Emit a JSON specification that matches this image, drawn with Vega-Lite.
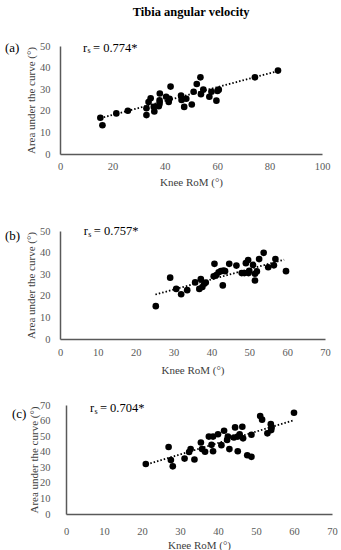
{
  "$schema": "https://vega.github.io/schema/vega-lite/v6.json",
  "padding": {"left": 5, "top": 5, "right": 0, "bottom": 0},
  "title": {"text": "Tibia angular velocity", "anchor": "middle", "fontSize": 12.5, "fontWeight": "bold", "font": "Liberation Serif", "color": "black", "offset": 23, "dx": 20},
  "datasets": {
    "pts_a": [
      {"rom": 15.4, "auc": 16.8}, {"rom": 16.2, "auc": 13.3}, {"rom": 21.5, "auc": 18.8}, {"rom": 25.9, "auc": 20},
      {"rom": 33, "auc": 21.2}, {"rom": 33, "auc": 18}, {"rom": 33.8, "auc": 24.1}, {"rom": 34.6, "auc": 25.8},
      {"rom": 35.8, "auc": 21.8}, {"rom": 36, "auc": 19.7}, {"rom": 37.7, "auc": 22.1}, {"rom": 38, "auc": 24.8},
      {"rom": 38, "auc": 23.3}, {"rom": 38.1, "auc": 28}, {"rom": 40.5, "auc": 26.5}, {"rom": 41.5, "auc": 24.1},
      {"rom": 41.8, "auc": 25.6}, {"rom": 42.2, "auc": 31.2}, {"rom": 46.2, "auc": 27.1}, {"rom": 46.4, "auc": 25},
      {"rom": 47.4, "auc": 21.8}, {"rom": 48.2, "auc": 25.6}, {"rom": 50.3, "auc": 22.9}, {"rom": 51, "auc": 28.8},
      {"rom": 52.2, "auc": 32.4}, {"rom": 53.6, "auc": 35.5}, {"rom": 53.8, "auc": 27.7}, {"rom": 54.7, "auc": 29.8},
      {"rom": 57, "auc": 26.5}, {"rom": 57.8, "auc": 28.8}, {"rom": 59.7, "auc": 24.7}, {"rom": 60.1, "auc": 29.2},
      {"rom": 60.6, "auc": 29.8}, {"rom": 74.4, "auc": 35.5}, {"rom": 83.2, "auc": 38.6}
    ],
    "trend_a": [{"rom": 15.4, "auc": 16.6}, {"rom": 83.2, "auc": 38.4}],
    "ann_a": [{"x": 8.8, "y": 49.3, "r": "r", "s": "s", "v": "= 0.774*"}],
    "pts_b": [
      {"rom": 25.3, "auc": 15.2}, {"rom": 29.1, "auc": 28.4}, {"rom": 30.7, "auc": 23.2}, {"rom": 32, "auc": 20.7},
      {"rom": 33.6, "auc": 22.6}, {"rom": 35.7, "auc": 26.2}, {"rom": 36.8, "auc": 23.2}, {"rom": 37.2, "auc": 27.7},
      {"rom": 37.6, "auc": 24.1}, {"rom": 38.1, "auc": 25.6}, {"rom": 38.5, "auc": 26.1}, {"rom": 40.6, "auc": 29},
      {"rom": 40.8, "auc": 34.8}, {"rom": 41.3, "auc": 29.6}, {"rom": 41.9, "auc": 30.9}, {"rom": 42.5, "auc": 31.4},
      {"rom": 43.2, "auc": 31.7}, {"rom": 43, "auc": 24.8}, {"rom": 43.6, "auc": 31.4}, {"rom": 44.7, "auc": 34.8},
      {"rom": 46.6, "auc": 34}, {"rom": 48, "auc": 30.5}, {"rom": 48.7, "auc": 30.5}, {"rom": 49.1, "auc": 35.1},
      {"rom": 49.7, "auc": 36.6}, {"rom": 49.8, "auc": 30.5}, {"rom": 50, "auc": 31.6}, {"rom": 51, "auc": 34.3},
      {"rom": 51.5, "auc": 30.2}, {"rom": 51.5, "auc": 27.1}, {"rom": 52, "auc": 31.3}, {"rom": 52.6, "auc": 37},
      {"rom": 53.8, "auc": 39.9}, {"rom": 55, "auc": 33.2}, {"rom": 56.5, "auc": 34.1}, {"rom": 56.9, "auc": 37},
      {"rom": 59.7, "auc": 31.4}
    ],
    "trend_b": [{"rom": 25.2, "auc": 20.6}, {"rom": 59.2, "auc": 36.7}],
    "ann_b": [{"x": 6.3, "y": 50, "r": "r", "s": "s", "v": "= 0.757*"}],
    "pts_c": [
      {"rom": 21, "auc": 32.1}, {"rom": 27, "auc": 43}, {"rom": 27.6, "auc": 34.6}, {"rom": 28.1, "auc": 30.6},
      {"rom": 31.2, "auc": 35.6}, {"rom": 32.4, "auc": 39.8}, {"rom": 32.8, "auc": 41.7}, {"rom": 33.8, "auc": 35},
      {"rom": 35.5, "auc": 45.9}, {"rom": 35.8, "auc": 41.7}, {"rom": 36.6, "auc": 40}, {"rom": 37.6, "auc": 49.7},
      {"rom": 38.3, "auc": 44.4}, {"rom": 38.7, "auc": 40.3}, {"rom": 38.7, "auc": 49.7}, {"rom": 40, "auc": 51.2},
      {"rom": 40.9, "auc": 44.2}, {"rom": 41.6, "auc": 53.5}, {"rom": 42.4, "auc": 47.6}, {"rom": 42.6, "auc": 49.7},
      {"rom": 43, "auc": 41.7}, {"rom": 44.2, "auc": 49.1}, {"rom": 44.5, "auc": 55.6}, {"rom": 45.2, "auc": 40.3},
      {"rom": 45.2, "auc": 49.7}, {"rom": 45.7, "auc": 51.2}, {"rom": 46.4, "auc": 56}, {"rom": 46.6, "auc": 48.6},
      {"rom": 47.7, "auc": 37.7}, {"rom": 48.8, "auc": 36.7}, {"rom": 48.8, "auc": 50.9}, {"rom": 51.1, "auc": 62.9},
      {"rom": 51.6, "auc": 60.6}, {"rom": 53, "auc": 51.8}, {"rom": 53.9, "auc": 57.7}, {"rom": 54, "auc": 53.9},
      {"rom": 54.1, "auc": 55.5}, {"rom": 60, "auc": 65}
    ],
    "trend_c": [{"rom": 21.3, "auc": 31.9}, {"rom": 60, "auc": 60.2}],
    "ann_c": [{"x": 6.3, "y": 68, "r": "r", "s": "s", "v": "= 0.704*"}]
  },
  "spacing": 24,
  "vconcat": [
    {
      "spacing": 37,
      "vconcat": [
        {
          "width": 262, "height": 108,
          "title": {"text": "(a)", "anchor": "start", "frame": "group", "orient": "top", "offset": 0, "dx": -55, "dy": 13.5, "fontSize": 13, "fontWeight": "normal", "font": "Liberation Serif", "color": "black"},
          "layer": [
            {"data": {"name": "pts_a"}, "mark": {"type": "circle", "size": 44, "color": "black", "opacity": 1},
             "encoding": {
               "x": {"field": "rom", "type": "quantitative", "scale": {"domain": [0, 100], "nice": false}, "axis": {"values": [0, 20, 40, 60, 80, 100], "tickCount": 12, "labelOverlap": false, "title": "Knee RoM (°)", "labelPadding": 7, "titlePadding": 5}},
               "y": {"field": "auc", "type": "quantitative", "scale": {"domain": [0, 50], "nice": false}, "axis": {"values": [0, 10, 20, 30, 40, 50], "tickCount": 12, "labelOverlap": false, "title": "Area under the curve (°)"}}}},
            {"data": {"name": "trend_a"}, "mark": {"type": "line", "color": "black", "strokeDash": [1.5, 2], "strokeWidth": 1.8},
             "encoding": {"x": {"field": "rom", "type": "quantitative"}, "y": {"field": "auc", "type": "quantitative"}}},
            {"data": {"name": "ann_a"}, "mark": {"type": "text", "align": "left", "baseline": "middle", "font": "Liberation Serif", "fontSize": 12.5, "color": "black"},
             "encoding": {"x": {"field": "x", "type": "quantitative"}, "y": {"field": "y", "type": "quantitative"}, "text": {"field": "r"}}},
            {"data": {"name": "ann_a"}, "mark": {"type": "text", "align": "left", "baseline": "middle", "font": "Liberation Serif", "fontSize": 8, "dx": 4.5, "dy": 3.5, "color": "black"},
             "encoding": {"x": {"field": "x", "type": "quantitative"}, "y": {"field": "y", "type": "quantitative"}, "text": {"field": "s"}}},
            {"data": {"name": "ann_a"}, "mark": {"type": "text", "align": "left", "baseline": "middle", "font": "Liberation Serif", "fontSize": 12.5, "dx": 10, "color": "black"},
             "encoding": {"x": {"field": "x", "type": "quantitative"}, "y": {"field": "y", "type": "quantitative"}, "text": {"field": "v"}}}
          ]
        },
        {
          "width": 265, "height": 108,
          "title": {"text": "(b)", "anchor": "start", "frame": "group", "orient": "top", "offset": 0, "dx": -55, "dy": 17.5, "fontSize": 13, "fontWeight": "normal", "font": "Liberation Serif", "color": "black"},
          "layer": [
            {"data": {"name": "pts_b"}, "mark": {"type": "circle", "size": 44, "color": "black", "opacity": 1},
             "encoding": {
               "x": {"field": "rom", "type": "quantitative", "scale": {"domain": [0, 70], "nice": false}, "axis": {"values": [0, 10, 20, 30, 40, 50, 60, 70], "tickCount": 12, "labelOverlap": false, "title": "Knee RoM (°)", "labelPadding": 8, "titlePadding": 7}},
               "y": {"field": "auc", "type": "quantitative", "scale": {"domain": [0, 50], "nice": false}, "axis": {"values": [0, 10, 20, 30, 40, 50], "tickCount": 12, "labelOverlap": false, "title": "Area under the curve (°)"}}}},
            {"data": {"name": "trend_b"}, "mark": {"type": "line", "color": "black", "strokeDash": [1.5, 2], "strokeWidth": 1.8},
             "encoding": {"x": {"field": "rom", "type": "quantitative"}, "y": {"field": "auc", "type": "quantitative"}}},
            {"data": {"name": "ann_b"}, "mark": {"type": "text", "align": "left", "baseline": "middle", "font": "Liberation Serif", "fontSize": 12.5, "color": "black"},
             "encoding": {"x": {"field": "x", "type": "quantitative"}, "y": {"field": "y", "type": "quantitative"}, "text": {"field": "r"}}},
            {"data": {"name": "ann_b"}, "mark": {"type": "text", "align": "left", "baseline": "middle", "font": "Liberation Serif", "fontSize": 8, "dx": 4.5, "dy": 3.5, "color": "black"},
             "encoding": {"x": {"field": "x", "type": "quantitative"}, "y": {"field": "y", "type": "quantitative"}, "text": {"field": "s"}}},
            {"data": {"name": "ann_b"}, "mark": {"type": "text", "align": "left", "baseline": "middle", "font": "Liberation Serif", "fontSize": 12.5, "dx": 10, "color": "black"},
             "encoding": {"x": {"field": "x", "type": "quantitative"}, "y": {"field": "y", "type": "quantitative"}, "text": {"field": "v"}}}
          ]
        }
      ]
    },
    {
      "bounds": "flush",
      "spacing": 5,
      "hconcat": [
        {"width": 1, "height": 1, "data": {"values": []}, "mark": "point", "encoding": {}},
        {
          "width": 266, "height": 109,
          "title": {"text": "(c)", "anchor": "start", "frame": "group", "orient": "top", "offset": 0, "dx": -54, "dy": 21, "fontSize": 13, "fontWeight": "normal", "font": "Liberation Serif", "color": "black"},
          "layer": [
            {"data": {"name": "pts_c"}, "mark": {"type": "circle", "size": 44, "color": "black", "opacity": 1},
             "encoding": {
               "x": {"field": "rom", "type": "quantitative", "scale": {"domain": [0, 70], "nice": false}, "axis": {"values": [0, 10, 20, 30, 40, 50, 60, 70], "tickCount": 12, "labelOverlap": false, "title": "Knee RoM (°)", "labelPadding": 12, "titlePadding": 3}},
               "y": {"field": "auc", "type": "quantitative", "scale": {"domain": [0, 70], "nice": false}, "axis": {"values": [0, 10, 20, 30, 40, 50, 60, 70], "tickCount": 12, "labelOverlap": false, "title": "Area under the curve (°)", "labelPadding": 16, "titlePadding": 0}}}},
            {"data": {"name": "trend_c"}, "mark": {"type": "line", "color": "black", "strokeDash": [1.5, 2], "strokeWidth": 1.8},
             "encoding": {"x": {"field": "rom", "type": "quantitative"}, "y": {"field": "auc", "type": "quantitative"}}},
            {"data": {"name": "ann_c"}, "mark": {"type": "text", "align": "left", "baseline": "middle", "font": "Liberation Serif", "fontSize": 12.5, "color": "black"},
             "encoding": {"x": {"field": "x", "type": "quantitative"}, "y": {"field": "y", "type": "quantitative"}, "text": {"field": "r"}}},
            {"data": {"name": "ann_c"}, "mark": {"type": "text", "align": "left", "baseline": "middle", "font": "Liberation Serif", "fontSize": 8, "dx": 4.5, "dy": 3.5, "color": "black"},
             "encoding": {"x": {"field": "x", "type": "quantitative"}, "y": {"field": "y", "type": "quantitative"}, "text": {"field": "s"}}},
            {"data": {"name": "ann_c"}, "mark": {"type": "text", "align": "left", "baseline": "middle", "font": "Liberation Serif", "fontSize": 12.5, "dx": 10, "color": "black"},
             "encoding": {"x": {"field": "x", "type": "quantitative"}, "y": {"field": "y", "type": "quantitative"}, "text": {"field": "v"}}}
          ]
        }
      ]
    }
  ],
  "config": {
    "font": "Liberation Serif",
    "view": {"stroke": null},
    "axis": {"grid": false, "ticks": false, "labelOverlap": false, "labelFlush": false, "domainColor": "#595959", "domainWidth": 1.5, "labelColor": "#595959", "labelFont": "Liberation Serif", "labelFontSize": 10.5, "titleFont": "Liberation Serif", "titleFontSize": 11, "titleFontWeight": "normal", "titleColor": "#404040"},
    "axisY": {"labelPadding": 10, "titlePadding": 3}
  }
}
